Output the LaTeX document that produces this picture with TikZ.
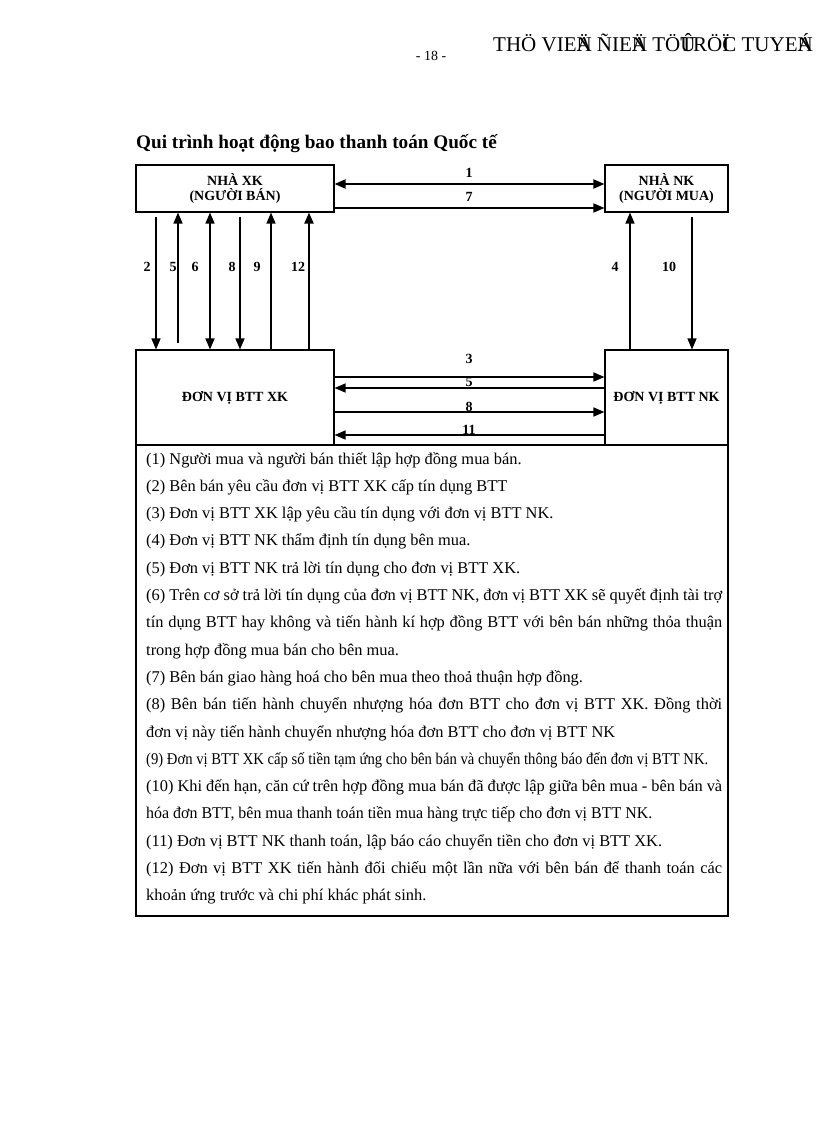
\documentclass[tikz,border=0pt]{standalone}
\usepackage{fontspec}
\setmainfont{Liberation Serif}
\usepackage{graphicx}
\usetikzlibrary{arrows.meta}
\newcommand{\bodyFont}{\fontsize{16.4}{27.3}\selectfont}
\newcommand{\boxFont}{\fontsize{14}{15.5}\selectfont\bfseries}
\newcommand{\lineWidth}{576pt}
\newcommand{\textLeft}{146}
\newcommand{\labelRow}{267}

\begin{document}
\begin{tikzpicture}[x=1pt, y=-1pt,
  >={Triangle[length=11pt,width=9pt]},
  party/.style={draw, line width=1.1pt, inner sep=0pt, align=center, font=\boxFont},
  arr/.style={line width=1.5pt},
  heavy/.style={line width=2.1pt},
  gaptop/.style={shorten <=4pt},
  gapbot/.style={shorten >=6pt},
  plainln/.style={},
  num/.style={font=\boxFont, inner sep=0pt},
  stepline/.style={anchor=base west, inner sep=0pt, font=\bodyFont}]
\path[use as bounding box, fill=white] (0,0) rectangle (816,1123);

% page header and title
\node[anchor=base west, inner sep=0pt, font=\fontsize{21}{21}\selectfont] (thuvien) at (493,52)
  {THÖ VIE\rlap{Ä}N ÑIE\rlap{Ä}N TÖ\rlap{Û}TRÖ\rlap{Ï}C TUYE\rlap{Á}N};
\node[anchor=base, inner sep=0pt, font=\fontsize{14}{14}\selectfont] (trang) at (431,61) {- 18 -};
\node[anchor=base west, inner sep=0pt, font=\fontsize{19.2}{20}\selectfont\bfseries] (tieude) at (136,149)
  {Qui trình hoạt động bao thanh toán Quốc tế};

% the four parties
\node[party, minimum width=198pt, minimum height=47pt] (nhaxk) at (235,188.5) {NHÀ XK\\(NGƯỜI BÁN)};
\node[party, minimum width=123pt, minimum height=47pt] (nhank) at (666.5,188.5) {NHÀ NK\\(NGƯỜI MUA)};
\node[party, minimum width=198pt, minimum height=95pt] (bttxk) at (235,397.5) {ĐƠN VỊ BTT XK};
\node[party, minimum width=123pt, minimum height=95pt] (bttnk) at (666.5,397.5) {ĐƠN VỊ BTT NK};
\node[draw, line width=1.1pt, minimum width=592pt, minimum height=471pt, inner sep=0pt] (buoc) at (432,680.5) {};

% top lanes
\coordinate (h1) at (0,184);
\coordinate (h7) at (0,208);
\draw[arr, heavy, <->] (nhaxk.east |- h1) -- (nhank.west |- h1);
\draw[arr, ->] (nhaxk.east |- h7) -- (nhank.west |- h7);
\node[num] (n1) at (469,173) {1};
\node[num] (n7) at (469,197) {7};

% lanes between the two factors
\foreach \yy/\ly/\lab/\tip in {377/359/3/->, 388/382/5/<-, 412/407/8/->, 435/430/11/<-}{
  \coordinate (h\lab) at (0,\yy);
  \draw[arr, \tip] (bttxk.east |- h\lab) -- (bttnk.west |- h\lab);
  \node[num] (hn\lab) at (469,\ly) {\lab};
}

% vertical lanes
\foreach \xx/\lx/\lab/\tip/\gap/\from/\to in {156/147/2/->/gaptop/nhaxk/bttxk, 178/173/5/<-/gapbot/nhaxk/bttxk,
    210/195/6/<->/plainln/nhaxk/bttxk, 240/232/8/->/gaptop/nhaxk/bttxk, 271/257/9/<-/plainln/nhaxk/bttxk,
    309/298/12/<-/heavy/nhaxk/bttxk, 630/615/4/<-/plainln/nhank/bttnk, 692/669/10/->/gaptop/nhank/bttnk}{
  \coordinate (v\lab) at (\xx,0);
  \draw[arr, \tip, \gap] (\from.south -| v\lab) -- (\to.north -| v\lab);
  \node[num] (vn\lab) at (\lx,\labelRow) {\lab};
}

% steps
\node[stepline] (s1) at (\textLeft,464) {(1) Người mua và người bán thiết lập hợp đồng mua bán.};
\node[stepline] (s2) at (\textLeft,491.3) {(2) Bên bán yêu cầu đơn vị BTT XK cấp tín dụng BTT};
\node[stepline] (s3) at (\textLeft,518.6) {(3) Đơn vị BTT XK lập yêu cầu tín dụng với đơn vị BTT NK.};
\node[stepline] (s4) at (\textLeft,545.9) {(4) Đơn vị BTT NK thẩm định tín dụng bên mua.};
\node[stepline] (s5) at (\textLeft,573.2) {(5) Đơn vị BTT NK trả lời tín dụng cho đơn vị BTT XK.};
\node[stepline] (s6a) at (\textLeft,600.5) {\makebox[\lineWidth][s]{(6) Trên cơ sở trả lời tín dụng của đơn vị BTT NK, đơn vị BTT XK sẽ quyết định tài trợ}};
\node[stepline] (s6b) at (\textLeft,627.8) {\makebox[\lineWidth][s]{tín dụng BTT hay không và tiến hành kí hợp đồng BTT với bên bán những thỏa thuận}};
\node[stepline] (s6c) at (\textLeft,655.1) {trong hợp đồng mua bán cho bên mua.};
\node[stepline] (s7) at (\textLeft,682.4) {(7) Bên bán giao hàng hoá cho bên mua theo thoả thuận hợp đồng.};
\node[stepline] (s8a) at (\textLeft,709.7) {\makebox[\lineWidth][s]{(8) Bên bán tiến hành chuyển nhượng hóa đơn BTT cho đơn vị BTT XK. Đồng thời}};
\node[stepline] (s8b) at (\textLeft,737) {đơn vị này tiến hành chuyển nhượng hóa đơn BTT cho đơn vị BTT NK};
\node[stepline] (s9) at (\textLeft,764.3) {\resizebox{562pt}{\height}{(9) Đơn vị BTT XK cấp số tiền tạm ứng cho bên bán và chuyển thông báo đến đơn vị BTT NK.}};
\node[stepline] (s10a) at (\textLeft,791.6) {\makebox[\lineWidth][s]{(10) Khi đến hạn, căn cứ trên hợp đồng mua bán đã được lập giữa bên mua - bên bán và}};
\node[stepline] (s10b) at (\textLeft,818.9) {\resizebox{506pt}{\height}{hóa đơn BTT, bên mua thanh toán tiền mua hàng trực tiếp cho đơn vị BTT NK.}};
\node[stepline] (s11) at (\textLeft,846.2) {(11) Đơn vị BTT NK thanh toán, lập báo cáo chuyển tiền cho đơn vị BTT XK.};
\node[stepline] (s12a) at (\textLeft,873.5) {\makebox[\lineWidth][s]{(12) Đơn vị BTT XK tiến hành đối chiếu một lần nữa với bên bán để thanh toán các}};
\node[stepline] (s12b) at (\textLeft,900.8) {khoản ứng trước và chi phí khác phát sinh.};
\end{tikzpicture}
\end{document}
